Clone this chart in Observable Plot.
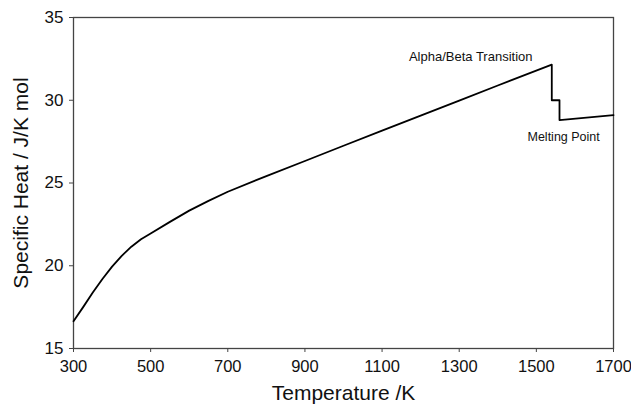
<!DOCTYPE html>
<html>
<head>
<meta charset="utf-8">
<script src="https://cdn.jsdelivr.net/npm/d3@7"></script>
<script src="https://cdn.jsdelivr.net/npm/@observablehq/plot@0.6"></script>
<style>
  html, body { margin: 0; padding: 0; background: #fff; }
  #chart svg { display: block; }
</style>
</head>
<body>
<div id="chart"></div>
<script>
// Temperature (K) and specific heat (J/K mol)
const temperature = [300, 325, 350, 375, 400, 425, 450, 475, 500, 550, 600, 650, 700, 800, 900, 1000, 1100, 1200, 1300, 1400, 1540, 1540, 1560, 1560, 1700];
const specificHeat = [16.65, 17.5, 18.38, 19.2, 19.95, 20.6, 21.15, 21.6, 21.95, 22.65, 23.33, 23.92, 24.47, 25.42, 26.33, 27.25, 28.16, 29.07, 29.98, 30.89, 32.15, 30.0, 30.0, 28.8, 29.1];

const xTicks = [300, 500, 700, 900, 1100, 1300, 1500, 1700];
const yTicks = [15, 20, 25, 30, 35];

const annotationText = ["Alpha/Beta Transition", "Melting Point"];
const annotationT = [1490, 1477];
const annotationCp = [32.65, 27.8];
const annotationAnchor = ["end", "start"];

const data = temperature.map((t, i) => ({t, cp: specificHeat[i]}));
const notes = annotationText.map((s, i) => ({s, t: annotationT[i], cp: annotationCp[i], a: annotationAnchor[i]}));

const font = "'Liberation Sans', Arial, sans-serif";

const chart = Plot.plot({
  width: 631,
  height: 409,
  marginLeft: 73,
  marginRight: 18,
  marginTop: 17,
  marginBottom: 61,
  style: {fontFamily: font, background: "#fff", color: "#000"},
  x: {domain: [300, 1700]},
  y: {domain: [15, 35]},
  marks: [
    Plot.frame({stroke: "#444", strokeWidth: 1.3}),
    Plot.axisX({ticks: xTicks, tickFormat: d => String(d), tickSize: 4, tickPadding: 8, fontSize: 16.5, label: null, stroke: "#444", fill: "#111"}),
    Plot.axisY({ticks: yTicks, tickFormat: d => String(d), tickSize: 4, tickPadding: 6, fontSize: 17, label: null, stroke: "#444", fill: "#111"}),
    Plot.text(["Temperature /K"], {frameAnchor: "bottom", dy: 45, lineAnchor: "middle", textAnchor: "middle", fontSize: 21, fill: "#111"}),
    Plot.text(["Specific Heat / J/K mol"], {frameAnchor: "left", dx: -52, rotate: -90, textAnchor: "middle", lineAnchor: "middle", fontSize: 21, fill: "#111"}),
    Plot.line(data, {x: "t", y: "cp", stroke: "#000", strokeWidth: 1.8, curve: "linear"}),
    Plot.text(notes.filter(d => d.a === "end"), {x: "t", y: "cp", text: "s", textAnchor: "end", fontSize: 13, fill: "#111"}),
    Plot.text(notes.filter(d => d.a === "start"), {x: "t", y: "cp", text: "s", textAnchor: "start", fontSize: 12.5, fill: "#111"})
  ]
});
document.getElementById("chart").appendChild(chart);
</script>
</body>
</html>
